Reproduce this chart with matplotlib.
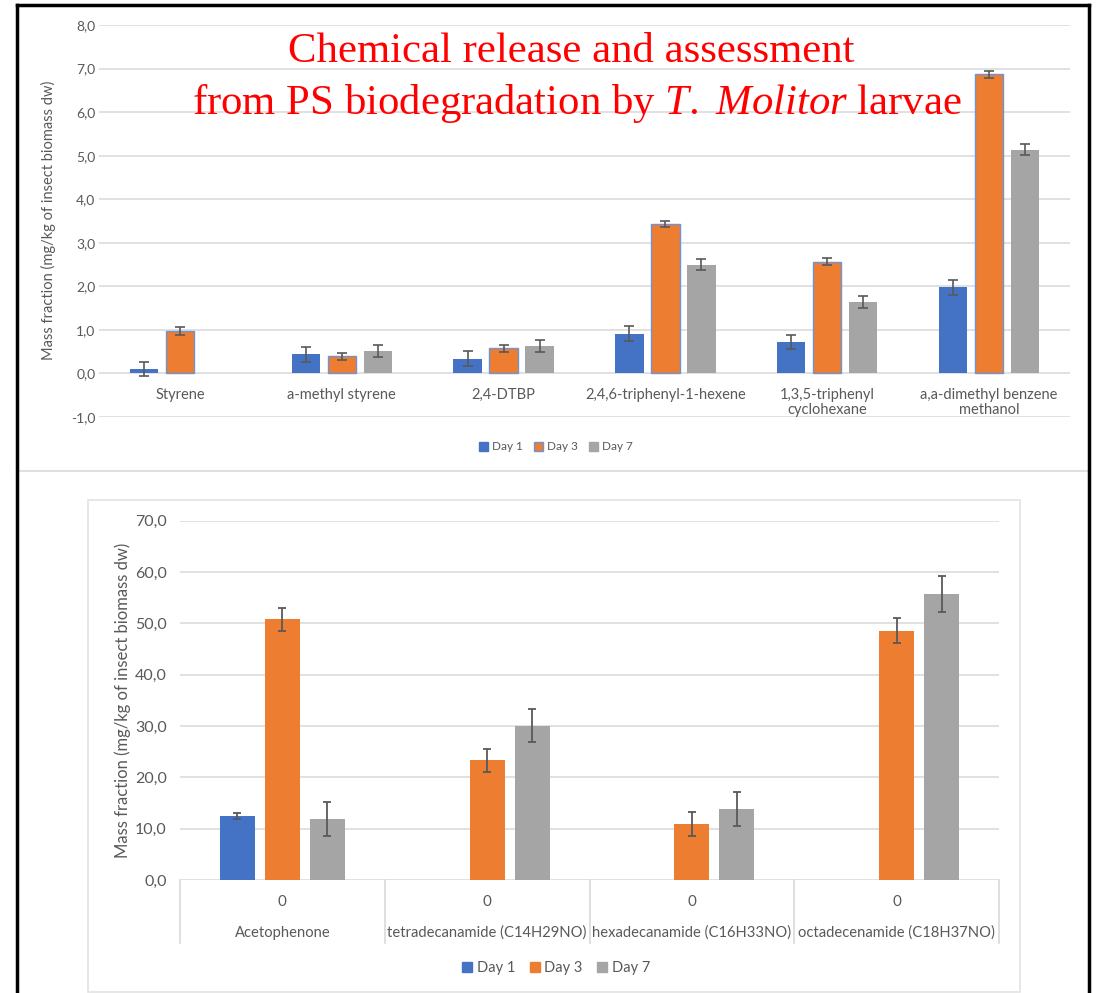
import numpy as np
import matplotlib
matplotlib.use("Agg")
import matplotlib.pyplot as plt
from matplotlib.lines import Line2D
from matplotlib.patches import Patch, Rectangle
from matplotlib.ticker import FuncFormatter
from matplotlib.transforms import blended_transform_factory

plt.rcParams['font.family'] = ['Lato', 'DejaVu Sans']
plt.rcParams['mathtext.fontset'] = 'custom'
plt.rcParams['mathtext.rm'] = 'Liberation Serif'
plt.rcParams['mathtext.it'] = 'Liberation Serif:italic'

# --- compounds released early (upper chart) ---
top_cats = ['Styrene', 'a-methyl styrene', '2,4-DTBP', '2,4,6-triphenyl-1-hexene',
            '1,3,5-triphenyl\ncyclohexane', 'a,a-dimethyl benzene\nmethanol']
top_day1 = [0.10, 0.44, 0.34, 0.91, 0.72, 1.98]
top_day3 = [0.98, 0.39, 0.58, 3.44, 2.57, 6.87]
top_day7 = [np.nan, 0.51, 0.63, 2.50, 1.64, 5.14]
top_err1 = [0.17, 0.17, 0.17, 0.17, 0.17, 0.17]
top_err3 = [0.09, 0.07, 0.08, 0.07, 0.08, 0.08]
top_err7 = [np.nan, 0.14, 0.14, 0.13, 0.13, 0.13]
top_ticks = [-1, 0, 1, 2, 3, 4, 5, 6, 7, 8]

# --- ketone and fatty amides (lower chart) ---
bot_cats = ['Acetophenone', 'tetradecanamide (C14H29NO)',
            'hexadecanamide (C16H33NO)', 'octadecenamide (C18H37NO)']
bot_sub = ['0', '0', '0', '0']
bot_day1 = [12.5, np.nan, np.nan, np.nan]
bot_day3 = [50.8, 23.3, 10.9, 48.6]
bot_day7 = [11.8, 30.1, 13.8, 55.7]
bot_err1 = [0.6, np.nan, np.nan, np.nan]
bot_err3 = [2.2, 2.2, 2.4, 2.4]
bot_err7 = [3.3, 3.3, 3.3, 3.5]
bot_ticks = [0, 10, 20, 30, 40, 50, 60, 70]

series = ['Day 1', 'Day 3', 'Day 7']
colors = ['#4472C4', '#ED7D31', '#A5A5A5']
txt = '#595959'
grid = '#D9D9D9'

W, H = 1099, 993
fig = plt.figure(figsize=(W / 100, H / 100), dpi=100)


def fx(px):
    return px / W


def fy(py):
    return 1 - py / H


comma = FuncFormatter(lambda v, p: f"{v:.1f}".replace('.', ','))


def style_axes(ax, ticks, size, pad):
    ax.set_yticks(ticks)
    ax.yaxis.set_major_formatter(comma)
    ax.tick_params(axis='y', length=0, labelsize=size, labelcolor=txt, pad=pad)
    ax.tick_params(axis='x', length=0, labelbottom=False)
    for s in ax.spines.values():
        s.set_visible(False)
    ax.grid(axis='y', color=grid, lw=1.1)
    ax.set_axisbelow(True)


# upper chart
ax1 = fig.add_axes([fx(99), fy(417), fx(1070 - 99), (417 - 25) / H])
x = np.arange(len(top_cats))
off, bw = 0.222, 0.175
ebar = dict(ecolor='#595959', elinewidth=1.2, capsize=3.5, capthick=1.2)
ax1.bar(x - off, top_day1, bw, color=colors[0], yerr=top_err1, error_kw=ebar)
ax1.bar(x, top_day3, bw, color=colors[1], edgecolor='#6E93D6', linewidth=1.0,
        yerr=top_err3, error_kw=ebar)
ax1.bar(x + off, top_day7, bw, color=colors[2], yerr=top_err7, error_kw=ebar)
ax1.set_xlim(-0.5, len(top_cats) - 0.5)
ax1.set_ylim(-1, 8)
style_axes(ax1, top_ticks, 10, 2.5)
for i, c in enumerate(top_cats):
    ax1.text(i, -0.33, c, ha='center', va='top', fontsize=10.5, color=txt,
             linespacing=1.15)

fig.text(fx(48), fy(220), 'Mass fraction (mg/kg of insect biomass dw)',
         rotation=90, ha='center', va='center', fontsize=10.5, color=txt)

leg1 = [Patch(facecolor=colors[0], edgecolor=colors[0]),
        Patch(facecolor=colors[1], edgecolor='#6E93D6', linewidth=1.0),
        Patch(facecolor=colors[2], edgecolor=colors[2])]
fig.legend(leg1, series, loc='center', bbox_to_anchor=(fx(556), fy(447)),
           ncol=3, frameon=False, fontsize=8.5, labelcolor=txt,
           handlelength=0.75, handleheight=0.75, handletextpad=0.3,
           columnspacing=1.0)

# lower chart
ax2 = fig.add_axes([fx(180), fy(880), fx(999 - 180), (880 - 520.7) / H])
x = np.arange(len(bot_cats))
off, bw = 0.22, 0.171
ebar2 = dict(ecolor='#595959', elinewidth=1.3, capsize=3.0, capthick=1.3)
ax2.bar(x - off, bot_day1, bw, color=colors[0], yerr=bot_err1, error_kw=ebar2)
ax2.bar(x, bot_day3, bw, color=colors[1], yerr=bot_err3, error_kw=ebar2)
ax2.bar(x + off, bot_day7, bw, color=colors[2], yerr=bot_err7, error_kw=ebar2)
ax2.set_xlim(-0.5, len(bot_cats) - 0.5)
ax2.set_ylim(0, 70)
style_axes(ax2, bot_ticks, 11.5, 9.5)

# two-level category axis with separators
tr = blended_transform_factory(ax2.transData, ax2.transAxes)
for i, (c, s) in enumerate(zip(bot_cats, bot_sub)):
    ax2.text(i, -0.061, s, transform=tr, ha='center', va='center',
             fontsize=11, color=txt)
    ax2.text(i, -0.1475, c, transform=tr, ha='center', va='center',
             fontsize=10.6, color=txt)
for b in np.arange(len(bot_cats) + 1) - 0.5:
    ax2.add_line(Line2D([b, b], [0, -0.175], transform=tr, color=grid,
                        lw=1.2, clip_on=False))

fig.text(fx(123), fy(700), 'Mass fraction (mg/kg of insect biomass dw)',
         rotation=90, ha='center', va='center', fontsize=12, color=txt)

leg2 = [Patch(facecolor=c, edgecolor=c) for c in colors]
fig.legend(leg2, series, loc='center', bbox_to_anchor=(fx(556), fy(968)),
           ncol=3, frameon=False, fontsize=10.5, labelcolor=txt,
           handlelength=0.7, handleheight=0.7, handletextpad=0.3,
           columnspacing=1.0)

# chart area outlines and outer frame
fig.add_artist(Rectangle((fx(88), fy(992)), fx(1020 - 88), (992 - 500) / H,
                         transform=fig.transFigure, fill=False,
                         edgecolor='#E3E3E3', lw=1.2))
fig.add_artist(Line2D([fx(17), fx(1088)], [fy(471), fy(471)],
                      transform=fig.transFigure, color='#E0E0E0', lw=1.5))
for xs, ys in [([17, 17], [5, 993]), ([17, 1089], [5, 5]),
               ([1089, 1089], [5, 993])]:
    fig.add_artist(Line2D([fx(v) for v in xs], [fy(v) for v in ys],
                          transform=fig.transFigure, color='black', lw=2.5))

# red title over the upper chart
fig.text(fx(571), fy(52), 'Chemical release and assessment', ha='center',
         va='center', fontsize=30.8, color='red', family='Liberation Serif')
fig.text(fx(577), fy(103),
         r'from PS biodegradation by $\mathit{T.\ Molitor}$ larvae',
         ha='center', va='center', fontsize=30.8, color='red',
         family='Liberation Serif')

fig.savefig('out.png', dpi=100, facecolor='white')
